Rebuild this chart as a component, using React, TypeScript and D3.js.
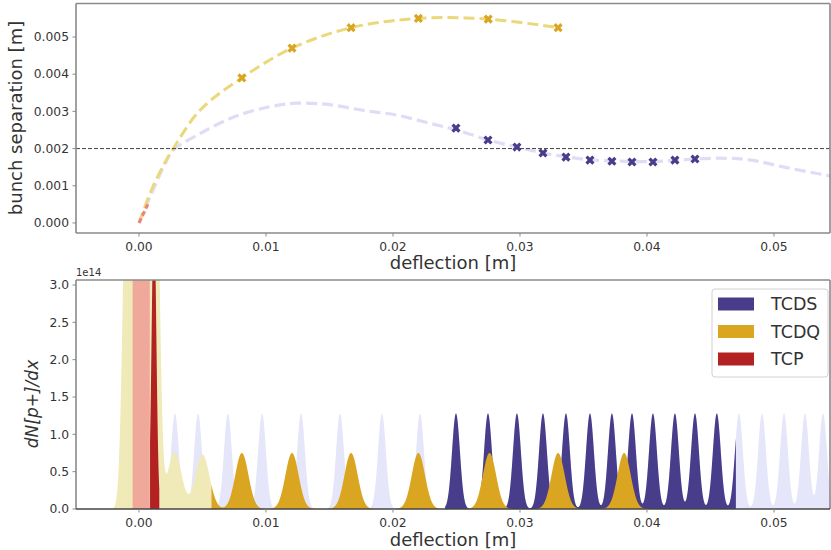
import React from "react";
import * as d3 from "d3";

// ---------- data ----------
const xTickValues = [0, 0.01, 0.02, 0.03, 0.04, 0.05];
const yTopTickValues = [0, 0.001, 0.002, 0.003, 0.004, 0.005];
const yBotTickValues = [0, 0.5e14, 1.0e14, 1.5e14, 2.0e14, 2.5e14, 3.0e14];

// bunch separation vs deflection (all bunches, lavender dashed)
const allSepX = [0, 0.001, 0.002, 0.0027, 0.0048, 0.0074, 0.0101, 0.0124, 0.015, 0.0176, 0.0203, 0.0229, 0.025, 0.0275, 0.0298, 0.0318, 0.0336, 0.0355, 0.0372, 0.0388, 0.0405, 0.0422, 0.0438, 0.0461, 0.0482, 0.0508, 0.0545];
const allSepY = [0, 0.0008, 0.00155, 0.00196, 0.0024, 0.00284, 0.00311, 0.00322, 0.00318, 0.00303, 0.0029, 0.00268, 0.0025, 0.00223, 0.00204, 0.00188, 0.00178, 0.0017, 0.00167, 0.00165, 0.00165, 0.00168, 0.00172, 0.00174, 0.00169, 0.0015, 0.00126];

// TCDQ curve (yellow dashed)
const tcdqSepX = [0, 0.001, 0.002, 0.0027, 0.0048, 0.0081, 0.01205, 0.0167, 0.022, 0.0275, 0.033];
const tcdqSepY = [0, 0.0009, 0.0016, 0.002, 0.00303, 0.0039, 0.0047, 0.00525, 0.0055, 0.00548, 0.00525];

// TCP curve (red dashed)
const tcpSepX = [0, 0.0007];
const tcpSepY = [0, 0.0005];

// markers
const tcdqMarkX = [0.0081, 0.01205, 0.0167, 0.022, 0.0275, 0.033];
const tcdqMarkY = [0.0039, 0.0047, 0.00525, 0.0055, 0.00548, 0.00525];
const tcdsMarkX = [0.02496, 0.02748, 0.02976, 0.03181, 0.03362, 0.03551, 0.03724, 0.03882, 0.04047, 0.0422, 0.04378];
const tcdsMarkY = [0.00255, 0.00223, 0.00204, 0.00188, 0.00177, 0.00169, 0.00166, 0.00164, 0.00164, 0.00169, 0.00172];

const threshold = 0.002;

// bottom panel: bunch peaks
const bunchCenters = [0.00283, 0.00465, 0.007, 0.00969, 0.01276, 0.01583, 0.01913, 0.02213, 0.02496, 0.02748, 0.02976, 0.03181, 0.03362, 0.03551, 0.03724, 0.03882, 0.04047, 0.0422, 0.04378, 0.0455, 0.04724, 0.04906, 0.05079, 0.05244, 0.05386, 0.0555];
const bunchHeight = 1.28e14;
const bunchSigma = 0.00031;

const tcdqCenters = [-0.001, -0.0002, 0.0006, 0.0013, 0.0028, 0.005, 0.0081, 0.01205, 0.0167, 0.022, 0.0276, 0.033, 0.0382];
const tcdqHeights = [4e14, 8e14, 8e14, 5e14, 0.76e14, 0.73e14, 0.75e14, 0.75e14, 0.75e14, 0.75e14, 0.75e14, 0.75e14, 0.75e14];
const tcdqSigmas = [0.0003, 0.0004, 0.0004, 0.0003, 0.00055, 0.00055, 0.00052, 0.00052, 0.00052, 0.00052, 0.00052, 0.00052, 0.00052];

const tcpPaleCenters = [0.00015];
const tcpPaleHeights = [20e14];
const tcpPaleSigmas = [0.0004];
const tcpDarkCenters = [0.00118];
const tcpDarkHeights = [4e14];
const tcpDarkSigmas = [0.00018];

const tcdsRange = [0.0241, 0.047];
const tcdqRange = [0.0057, 0.0545];
const tcpPaleRange = [-0.0005, 0.00085];
const tcpDarkRange = [0.00087, 0.0016];

const legendLabels = ["TCDS", "TCDQ", "TCP"];

// ---------- layout ----------
const W = 831, H = 550;
const L = 76, R = 831;
const topT = 3.5, topB = 233;
const botT = 280, botB = 509;

const xDom: [number, number] = [-0.00496, 0.05449];
const x = d3.scaleLinear().domain(xDom).range([L, R]);
const yTop = d3.scaleLinear().domain([-0.00027, 0.0059]).range([topB, topT]);
const yBot = d3.scaleLinear().domain([0, 3.067e14]).range([botB, botT]);

const COL = {
  lav: "#E6E6FA",
  lavLine: "#DDDDF6",
  blue: "#483D8B",
  gold: "#DAA520",
  paleGold: "#EFEAB8",
  goldLine: "#EBD87A",
  red: "#B22222",
  salmon: "#EFA899",
  redLine: "#EE8080",
};

function dens(xv: number, c: number[], h: number[] | number, s: number[] | number) {
  let v = 0;
  for (let i = 0; i < c.length; i++) {
    const hi = Array.isArray(h) ? h[i] : h;
    const si = Array.isArray(s) ? s[i] : s;
    const z = (xv - c[i]) / si;
    v += hi * Math.exp(-0.5 * z * z);
  }
  return v;
}

function samples(lo: number, hi: number) {
  const a = d3.range(lo, hi, 0.00001);
  a.push(hi);
  return a;
}

function areaPath(lo: number, hi: number, f: (v: number) => number) {
  const xs = samples(lo, hi);
  return d3
    .area<number>()
    .x((d) => x(d))
    .y0(yBot(0))
    .y1((d) => yBot(f(d)))(xs) as string;
}

const lavF = (v: number) => dens(v, bunchCenters, bunchHeight, bunchSigma);
const goldF = (v: number) => dens(v, tcdqCenters, tcdqHeights, tcdqSigmas);
const tcpPaleF = (v: number) => dens(v, tcpPaleCenters, tcpPaleHeights, tcpPaleSigmas);
const tcpDarkF = (v: number) => dens(v, tcpDarkCenters, tcpDarkHeights, tcpDarkSigmas);

const line = (xs: number[], ys: number[], curve = d3.curveCatmullRom) =>
  d3
    .line<number>()
    .x((_, i) => x(xs[i]))
    .y((_, i) => yTop(ys[i]))
    .curve(curve)(xs.map((_, i) => i)) as string;

const xMark = d3.symbol(d3.symbolCross, 52)() as string;

const FONT = "DejaVu Sans, sans-serif";
const TXT = "#333";
const SPINE = "#8a8a8a";

function Frame({ t, b, darkBottom }: { t: number; b: number; darkBottom?: boolean }) {
  return (
    <g>
      <line x1={L} x2={R - 1} y1={t} y2={t} stroke={SPINE} strokeWidth={1.6} />
      <line x1={L} x2={L} y1={t} y2={b} stroke={SPINE} strokeWidth={1.6} />
      <line x1={R - 1} x2={R - 1} y1={t} y2={b} stroke={SPINE} strokeWidth={1.6} />
      <line x1={L} x2={R - 1} y1={b} y2={b} stroke={darkBottom ? "#444" : SPINE} strokeWidth={darkBottom ? 1.3 : 1.6} />
    </g>
  );
}

export default function App() {
  return (
    <svg
      width={W}
      height={H}
      style={{ position: "absolute", left: 0, top: 0, background: "#fff" }}
      fontFamily={FONT}
    >
      <defs>
        <clipPath id="clipTop">
          <rect x={L} y={topT} width={R - L} height={topB - topT} />
        </clipPath>
        <clipPath id="clipBot">
          <rect x={L} y={botT} width={R - L} height={botB - botT} />
        </clipPath>
      </defs>

      {/* ---------- top panel ---------- */}
      <g clipPath="url(#clipTop)">
        <path d={line(allSepX, allSepY)} fill="none" stroke={COL.lavLine} strokeWidth={3.2} strokeDasharray="11,5" />
        <path d={line(tcdqSepX, tcdqSepY)} fill="none" stroke={COL.goldLine} strokeWidth={3} strokeDasharray="11,5" />
        <path d={line(tcpSepX, tcpSepY, d3.curveLinear)} fill="none" stroke={COL.redLine} strokeWidth={3} strokeDasharray="5,3" />
        <line x1={L} x2={R} y1={yTop(threshold)} y2={yTop(threshold)} stroke="#444" strokeWidth={1} strokeDasharray="4,2" />
        {tcdqMarkX.map((v, i) => (
          <path key={"g" + i} d={xMark} fill={COL.gold} transform={`translate(${x(v)},${yTop(tcdqMarkY[i])}) rotate(45)`} />
        ))}
        {tcdsMarkX.map((v, i) => (
          <path key={"b" + i} d={xMark} fill={COL.blue} transform={`translate(${x(v)},${yTop(tcdsMarkY[i])}) rotate(45)`} />
        ))}
      </g>
      <Frame t={topT} b={topB} />
      {xTickValues.map((v) => (
        <g key={"xt" + v} transform={`translate(${x(v)},${topB})`}>
          <line y1={0} y2={3.5} stroke={SPINE} />
          <text y={18} textAnchor="middle" fontSize={12.3} fill={TXT}>
            {d3.format(".2f")(v)}
          </text>
        </g>
      ))}
      {yTopTickValues.map((v) => (
        <g key={"yt" + v} transform={`translate(${L},${yTop(v)})`}>
          <line x1={0} x2={-3.5} stroke={SPINE} />
          <text x={-7} dy="0.35em" textAnchor="end" fontSize={12.3} fill={TXT}>
            {d3.format(".3f")(v)}
          </text>
        </g>
      ))}
      <text x={453} y={269} textAnchor="middle" fontSize={18} fill={TXT}>
        deflection [m]
      </text>
      <text transform={`translate(22,118) rotate(-90)`} textAnchor="middle" fontSize={18} fill={TXT}>
        bunch separation [m]
      </text>

      {/* ---------- bottom panel ---------- */}
      <g clipPath="url(#clipBot)">
        <path d={areaPath(xDom[0], xDom[1], lavF)} fill={COL.lav} />
        <path d={areaPath(tcdsRange[0], tcdsRange[1], lavF)} fill={COL.blue} />
        <path d={areaPath(xDom[0], tcdqRange[0], goldF)} fill={COL.paleGold} />
        <path d={areaPath(tcdqRange[0], tcdqRange[1], goldF)} fill={COL.gold} />
        <path d={areaPath(tcpPaleRange[0], tcpPaleRange[1], tcpPaleF)} fill={COL.salmon} />
        <path d={areaPath(tcpDarkRange[0], tcpDarkRange[1], tcpDarkF)} fill={COL.red} />
      </g>
      <Frame t={botT} b={botB} darkBottom />
      {xTickValues.map((v) => (
        <g key={"xb" + v} transform={`translate(${x(v)},${botB})`}>
          <line y1={0} y2={3.5} stroke={SPINE} />
          <text y={18} textAnchor="middle" fontSize={12.3} fill={TXT}>
            {d3.format(".2f")(v)}
          </text>
        </g>
      ))}
      {yBotTickValues.map((v) => (
        <g key={"yb" + v} transform={`translate(${L},${yBot(v)})`}>
          <line x1={0} x2={-3.5} stroke={SPINE} />
          <text x={-7} dy="0.35em" textAnchor="end" fontSize={12.3} fill={TXT}>
            {(v / 1e14).toFixed(1)}
          </text>
        </g>
      ))}
      <text x={L} y={276} fontSize={10} fill={TXT}>
        1e14
      </text>
      <text x={453} y={546} textAnchor="middle" fontSize={18} fill={TXT}>
        deflection [m]
      </text>
      <text transform={`translate(38,404) rotate(-90)`} textAnchor="middle" fontSize={17} fill={TXT} fontStyle="italic">
        dN[p+]/dx
      </text>

      {/* legend */}
      <g>
        <rect x={712} y={289} width={116} height={88} rx={3} fill="#fff" fillOpacity={0.85} stroke="#d0d0d0" />
        {[COL.blue, COL.gold, COL.red].map((c, i) => (
          <g key={"lg" + i} transform={`translate(718,${304 + i * 27.5})`}>
            <rect x={0} y={-6.5} width={36} height={13} fill={c} />
            <text x={53} dy="0.36em" fontSize={17.5} fill={TXT}>
              {legendLabels[i]}
            </text>
          </g>
        ))}
      </g>
    </svg>
  );
}
